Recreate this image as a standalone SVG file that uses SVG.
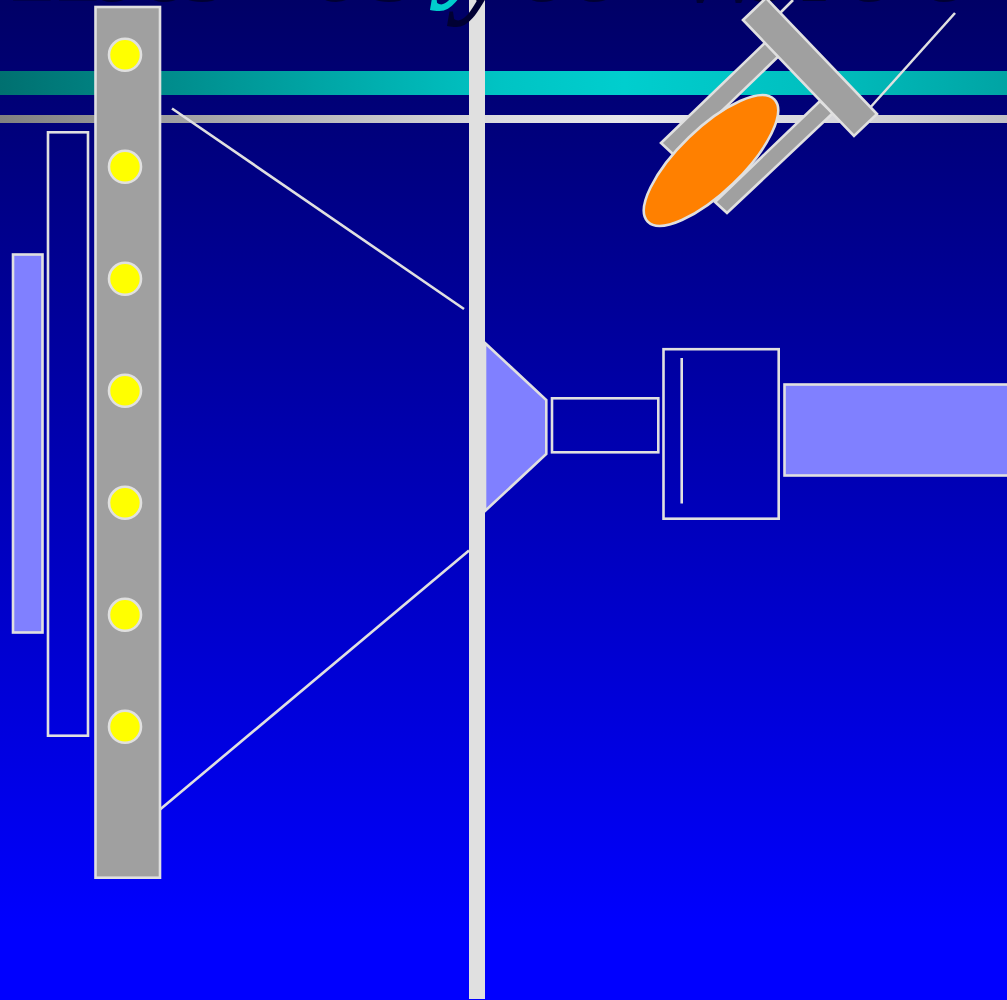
<svg xmlns="http://www.w3.org/2000/svg" width="1007" height="1000" viewBox="0 0 1007 1000">
<style>
.s{stroke:#e0e0e0;stroke-width:2.6}
.g{fill:#a0a0a0}
.b{fill:none}
.p{fill:#8080ff}
.l{fill:none;stroke:#e0e0e0;stroke-width:2.6}
.d{fill:#ffff00;stroke:#e0e0e0;stroke-width:2.6}
.t{font-family:"Liberation Serif","Times New Roman",serif;font-size:120px;font-weight:bold;font-style:italic}
</style>
<defs>
<linearGradient id="bg" x1="0" y1="0" x2="0" y2="1"><stop offset="0" stop-color="#000066"/><stop offset="0.93" stop-color="#0000ff"/><stop offset="1" stop-color="#0000ff"/></linearGradient>
<linearGradient id="teal" x1="0" y1="0" x2="1" y2="0"><stop offset="0" stop-color="#007070"/><stop offset="0.5" stop-color="#00c4c4"/><stop offset="0.62" stop-color="#00cece"/><stop offset="0.8" stop-color="#00c0c0"/><stop offset="1" stop-color="#00a4a4"/></linearGradient>
<linearGradient id="gray" x1="0" y1="0" x2="1" y2="0"><stop offset="0" stop-color="#808080"/><stop offset="0.5" stop-color="#dcdce0"/><stop offset="0.62" stop-color="#e6e6ea"/><stop offset="0.8" stop-color="#dadade"/><stop offset="1" stop-color="#c0c0c4"/></linearGradient>
</defs>
<rect id="background" width="1007" height="1000" fill="url(#bg)"/>
<rect id="band-teal" y="71" width="1007" height="24" fill="url(#teal)"/>
<rect id="band-gray" y="115" width="1007" height="8" fill="url(#gray)"/>
<g id="connectors">
<line class="l" x1="172" y1="108.500" x2="464" y2="309"/>
<line class="l" x1="160" y1="809.500" x2="469" y2="550.500"/>
<line class="l" x1="793" y1="0" x2="775" y2="18"/>
<line class="l" x1="955" y1="13" x2="868" y2="110"/>
</g>
<g id="divider"><rect x="469" y="0" width="16" height="999" fill="#e0e0e0"/></g>
<g id="title">
<text class="t" fill="#000033" y="1" x="14 88 140 185 312 372 518 570 670 740 800 845 920 957">HoosesooWoloo</text>
<text class="t" fill="#00cccc" y="-15" x="442">y</text>
<text class="t" fill="#000033" y="1" x="459">y</text>
</g>
<g id="filter-panel"><rect class="p s" x="13" y="254.500" width="29.500" height="378"/></g>
<g id="frame-panel"><rect class="b s" x="48" y="132.300" width="40" height="603.400"/></g>
<g id="lamp-array">
<rect class="g s" x="95.500" y="7" width="64.500" height="870.700"/>
<circle class="d" cx="125" cy="54.800" r="16"/>
<circle class="d" cx="125" cy="166.800" r="16"/>
<circle class="d" cx="125" cy="278.800" r="16"/>
<circle class="d" cx="125" cy="390.800" r="16"/>
<circle class="d" cx="125" cy="502.800" r="16"/>
<circle class="d" cx="125" cy="614.800" r="16"/>
<circle class="d" cx="125" cy="726.800" r="16"/>
</g>
<g id="cone"><polygon class="p s" points="485,343 546.300,400 546.300,454 485,511"/><rect x="469" y="330" width="16" height="190" fill="#e0e0e0"/></g>
<g id="tube"><rect class="b s" x="552" y="398.300" width="106.300" height="54"/></g>
<g id="housing"><rect class="b s" x="663.500" y="349.200" width="115.200" height="169.500"/><line class="l" x1="681.700" y1="358" x2="681.700" y2="503.500"/></g>
<g id="output"><rect class="p s" x="784.500" y="384.500" width="225" height="91"/></g>
<g id="reflector">
<polygon class="g s" points="661,143 771,37 785,50 675,156"/>
<polygon class="g s" points="715,202 820,101 833,113 727,213"/>
<polygon class="g s" points="743,20 766,-2 877,114 854,136"/>
</g>
<g id="lens"><ellipse cx="711" cy="160.500" rx="88" ry="32" transform="rotate(-44 711 160.500)" fill="#ff8000" stroke="#e0e0e0" stroke-width="2.600"/></g>
</svg>
